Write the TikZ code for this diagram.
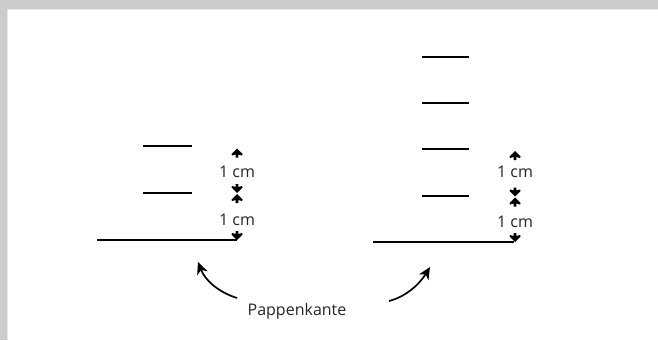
\documentclass[tikz,border=0pt]{standalone}
\usepackage{fontspec}
\setmainfont{Open Sans}
\usetikzlibrary{arrows.meta}
\definecolor{framegray}{HTML}{CCCCCC}
\definecolor{framelight}{HTML}{E8E8E8}
\tikzset{
  shortline/.style={line width=1.4pt, black},
  baseline/.style={line width=2pt, black},
  lbl/.style={font=\fontsize{16}{18}\selectfont, inner sep=0pt, text=black!85},
  uphead/.pic={\fill[black] (0,0) -- (5.5,5.5) -- (5,7) -- (1.3,6) -- (1.3,9) -- (-1.3,9) -- (-1.3,6) -- (-5,7) -- (-5.5,5.5) -- cycle;},
  downhead/.pic={\fill[black] (0,0) -- (5.5,-5.5) -- (5,-7) -- (1.3,-6) -- (1.3,-9) -- (-1.3,-9) -- (-1.3,-6) -- (-5,-7) -- (-5.5,-5.5) -- cycle;},
  curvearrow/.style={-{Stealth[length=12pt,width=11pt,inset=3.5pt]}, line width=1.7pt}
}
\begin{document}
\begin{tikzpicture}[x=1pt,y=-1pt]
\useasboundingbox (0,0) rectangle (658,340);
% frame
\fill[white] (0,0) rectangle (658,340);
\fill[framegray] (0,0) rectangle (658,9);
\fill[framegray] (0,0) rectangle (7,340);
\fill[framelight] (7,9) rectangle (658,10);
\fill[framelight] (7,9) rectangle (8,340);

% ---- left figure ----
\coordinate (L0a) at (97,240); \coordinate (L0b) at (237,240);
\coordinate (L1a) at (143,146); \coordinate (L1b) at (192,146);
\coordinate (L2a) at (143,193); \coordinate (L2b) at (192,193);
\draw[baseline] (L0a) -- (L0b);
\draw[shortline] (L1a) -- (L1b);
\draw[shortline] (L2a) -- (L2b);
\pic at (237,148.5) {uphead};
\pic at (237,193) {downhead};
\pic at (237,194) {uphead};
\pic at (237,240) {downhead};
\node[lbl] (Lt1) at (237,172) {1 cm};
\node[lbl] (Lt2) at (237,220) {1 cm};

% ---- right figure ----
\coordinate (R0a) at (373,242); \coordinate (R0b) at (514,242);
\draw[baseline] (R0a) -- (R0b);
\foreach \yy/\nm in {57/R1,103/R2,149/R3,196/R4}{
  \coordinate (\nm a) at (422,\yy); \coordinate (\nm b) at (469,\yy);
  \draw[shortline] (\nm a) -- (\nm b);
}
\pic at (515,151) {uphead};
\pic at (515,196.5) {downhead};
\pic at (515,197.5) {uphead};
\pic at (515,242) {downhead};
\node[lbl] (Rt1) at (515,172) {1 cm};
\node[lbl] (Rt2) at (515,222) {1 cm};

% ---- label and curved arrows ----
\node[lbl] (pk) at (297,311) {Pappenkante};
\coordinate (cl0) at (237,298); \coordinate (cl1) at (198,262);
\coordinate (cr0) at (389,301); \coordinate (cr1) at (430,267);
\draw[curvearrow] (cl0) .. controls (218,292) and (205,280) .. (cl1);
\draw[curvearrow] (cr0) .. controls (405,297) and (419,285) .. (cr1);
\end{tikzpicture}
\end{document}
